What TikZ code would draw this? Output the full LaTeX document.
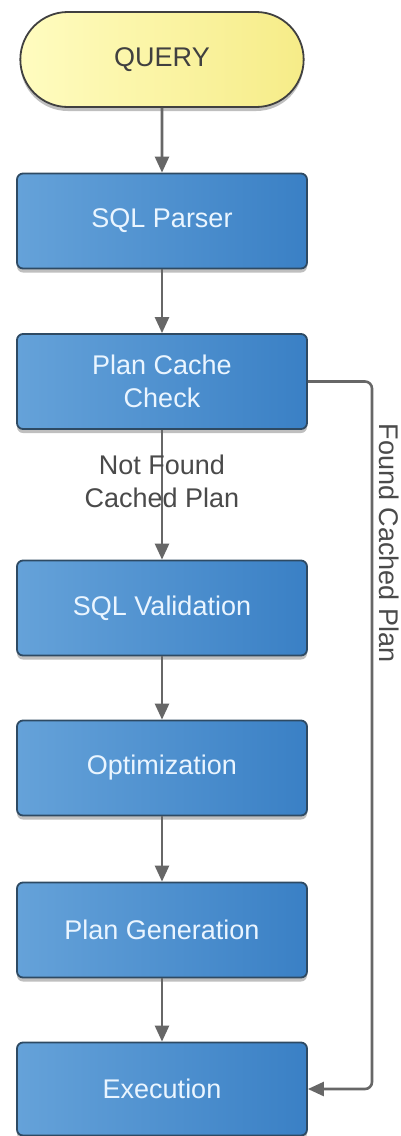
\documentclass[tikz,border=0pt]{standalone}
\usepackage{fontspec}
\setmainfont{Liberation Sans}
\usetikzlibrary{arrows.meta,shapes.misc,shadows}
\definecolor{boxL}{HTML}{65A2D9}
\definecolor{boxR}{HTML}{3A80C5}
\definecolor{boxB}{HTML}{2E4A63}
\definecolor{txtW}{HTML}{EAF5FF}
\definecolor{yelL}{HTML}{FFFCC0}
\definecolor{yelR}{HTML}{F6EC88}
\definecolor{lineG}{HTML}{676767}
\definecolor{lblG}{HTML}{4A4A4A}
\tikzset{
  stepbox/.style={draw=boxB, line width=1.8pt, rounded corners=6pt,
    left color=boxL, right color=boxR,
    minimum width=290pt, minimum height=95pt, text=txtW, align=center,
    font=\fontsize{27}{33}\selectfont,
    drop shadow={shadow xshift=0pt, shadow yshift=-4pt, opacity=0.25, fill=black}},
  termbox/.style={rounded rectangle, draw=black!75, line width=1.8pt,
    left color=yelL, right color=yelR,
    minimum width=290pt, minimum height=95pt, text=black!75,
    font=\fontsize{27}{33}\selectfont,
    drop shadow={shadow xshift=0pt, shadow yshift=-4pt, opacity=0.25, fill=black}},
  arr/.style={draw=lineG, line width=2.6pt,
    -{Triangle[length=16pt,width=14pt]}},
  lbl/.style={text=lblG, font=\fontsize{27}{33}\selectfont, align=center}
}
\begin{document}
\begin{tikzpicture}[x=1pt,y=-1pt]
\useasboundingbox[fill=white] (0,0) rectangle (401,1136);
\node[termbox] (q) at (162,59.5) {QUERY};
\node[stepbox] (p) at (162,221) {SQL Parser};
\node[stepbox] (c) at (162,381.5) {Plan Cache\\Check};
\node[stepbox] (v) at (162,608) {SQL Validation};
\node[stepbox] (o) at (162,768) {Optimization};
\node[stepbox] (g) at (162,930) {Plan Generation};
\node[stepbox, minimum height=93pt] (e) at (162,1089) {Execution};
\coordinate (f) at (372,700);
\draw[arr] (q) -- (p);
\draw[arr] (p) -- (c);
\draw[arr] (c) -- (v);
\draw[arr] (v) -- (o);
\draw[arr] (o) -- (g);
\draw[arr] (g) -- (e);
\draw[arr, rounded corners=7pt] (c.east) -| (f) |- (e.east);
\node[lbl] (nf) at (162,481) {Not Found\\Cached Plan};
\node[lbl, rotate=-90] (fc) at (389,543) {Found Cached Plan};
\end{tikzpicture}
\end{document}
